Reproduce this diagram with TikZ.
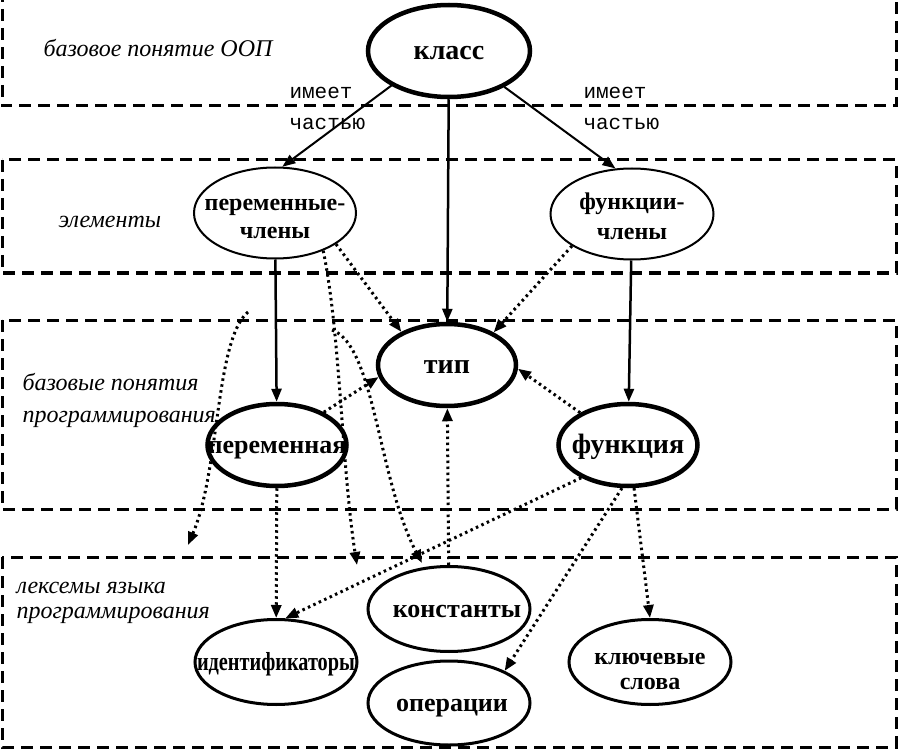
\documentclass[tikz,border=0pt]{standalone}
\usepackage{fontspec}
\usepackage{graphicx}
\setmainfont{Liberation Serif}
\setmonofont{Liberation Mono}
\usetikzlibrary{shapes.geometric,arrows.meta}

\begin{document}
\begin{tikzpicture}[x=1pt, y=-1pt, >={Triangle[length=13pt,width=10pt]},
  ellbold/.style={ellipse, draw, line width=4.5pt, inner sep=-40pt, align=center, font=\bfseries\fontsize{28}{30}\selectfont},
  ellthin/.style={ellipse, draw, line width=2pt, inner sep=-40pt, align=center, font=\bfseries\fontsize{24}{30}\selectfont},
  ellmid/.style={ellipse, draw, line width=3pt, inner sep=-40pt, align=center, font=\bfseries\fontsize{26}{30}\selectfont},
  onerow/.style={text height=17pt, text depth=0pt},
  solidarr/.style={->, line width=2.5pt},
  dotarr/.style={->, line width=3pt, dash pattern=on 2.5pt off 3.5pt},
  layer/.style={line width=3pt, dash pattern=on 12pt off 7pt},
  layertext/.style={anchor=west, align=left, font=\itshape\fontsize{24}{32}\selectfont},
  partlabel/.style={anchor=west, align=left, font=\ttfamily\fontsize{21}{31}\selectfont}]

\fill [white](0,0) rectangle (898,749);
\useasboundingbox (0,0) rectangle (898,749);

\draw [layer](2,-10) rectangle (896,106);
\draw [layer](2,160) rectangle (896,273);
\draw [layer](2,320) rectangle (896,509);
\draw [layer](2,557) rectangle (896,747);

\node [layertext] (t1) at (40,48) {базовое понятие ООП};
\node [layertext] (t2) at (55,222) {элементы};
\node [layertext] (t3) at (19,400) {базовые понятия\\программирования};
\node [layertext, font=\itshape\fontsize{24}{25}\selectfont] (t4) at (13,603) {лексемы языка\\программирования};

\node [ellbold, onerow, minimum width=162pt, minimum height=92pt] (klass) at (449,51) {класс};
\node [ellthin, minimum width=162pt, minimum height=91pt, font=\bfseries\fontsize{24}{28}\selectfont] (pchl) at (275,213) {\rule{0pt}{23pt}переменные-\\члены};
\node [ellthin, minimum width=163pt, minimum height=91pt] (fchl) at (632,214) {\rule{0pt}{22pt}функции-\\члены};

\node [ellbold, onerow, minimum width=138pt, minimum height=82pt] (tip) at (447,365) {тип};
\node [ellbold, onerow, minimum width=139pt, minimum height=82pt, font=\bfseries\fontsize{26}{30}\selectfont] (perem) at (277,445) {переменная};
\node [ellbold, onerow, minimum width=139pt, minimum height=82pt] (func) at (628,445) {функция};

\node [ellmid, onerow, minimum width=162pt, minimum height=85pt] (konst) at (449,609) {\hspace*{16pt}константы};
\node [ellmid, onerow, minimum width=162pt, minimum height=85pt] (ident) at (276,662) {\scalebox{0.78}[1]{идентификаторы}};
\node [ellmid, onerow, minimum width=162pt, minimum height=84pt] (oper) at (449,703) {\hspace*{6pt}операции};
\node [ellmid, minimum width=162pt, minimum height=85pt, font=\bfseries\fontsize{24}{25}\selectfont] (kluch) at (650,662) {\rule{0pt}{31pt}ключевые\\слова};

\node [partlabel] (im1) at (286,108) {имеет\\частью};
\node [partlabel] (im2) at (580,108) {имеет\\частью};

\draw [solidarr, line width=2pt](klass.211)--(pchl.81) ;
\draw [solidarr, line width=2pt](klass.327)--(fchl.110) ;
\draw [solidarr](klass)--(tip) ;
\draw [solidarr](pchl)--(perem) ;
\draw [solidarr](fchl)--(func) ;

\draw [dotarr](pchl.333)--(tip.144) ;
\draw [dotarr](fchl.208)--(tip.35) ;
\draw [dotarr](func.146)--(tip.357) ;
\draw [dotarr](perem.35)--(tip.190) ;
\draw [dotarr](konst)--(tip) ;

\draw [dotarr](perem)--(ident) ;
\draw [dotarr](func.215)--(ident.78) ;
\draw [dotarr](func.262)--(oper.30) ;
\draw [dotarr](func.278)--(kluch.north) ;

\coordinate (c1) at (357,565);
\draw [dotarr](pchl.322) .. controls (340,330) and (342,470) .. (c1) ;
\coordinate (c2s) at (332,330);
\coordinate (c2) at (422,563);
\draw [dotarr](c2s) .. controls (375,345) and (378,480) .. (c2) ;
\coordinate (c3s) at (248,312);
\coordinate (c3) at (188,545);
\draw [dotarr](c3s) .. controls (215,340) and (220,470) .. (c3) ;

\end{tikzpicture}
\end{document}
